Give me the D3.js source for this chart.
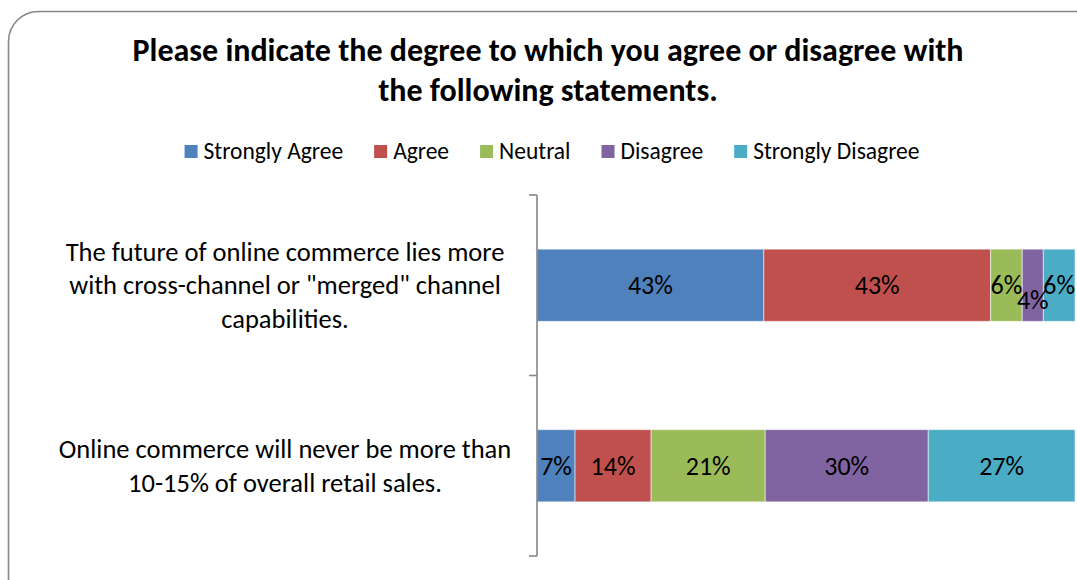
<!DOCTYPE html>
<html>
<head>
<meta charset="utf-8">
<script src="https://cdn.jsdelivr.net/npm/d3@7"></script>
<style>
  html, body { margin: 0; padding: 0; background: #ffffff; }
  svg { display: block; }
  text { font-family: Calibri, Carlito, Lato, "Noto Sans", sans-serif; fill: #000; }
</style>
</head>
<body>
<svg id="chart" width="1077" height="580"></svg>
<script>
// Survey statements (line breaks mark how the axis labels wrap)
const categories = [
  "The future of online commerce lies more\nwith cross-channel or \"merged\" channel\ncapabilities.",
  "Online commerce will never be more than\n10-15% of overall retail sales."
];
const seriesNames = ["Strongly Agree", "Agree", "Neutral", "Disagree", "Strongly Disagree"];
const seriesColors = ["#4F81BD", "#C0504D", "#9BBB59", "#8064A2", "#4BACC6"];
// Percent of respondents per answer, one array per statement
const futureCrossChannel = [43, 43, 6, 4, 6];
const neverMoreThan15 = [7, 14, 21, 30, 27];
const values = [futureCrossChannel, neverMoreThan15];
const titleLines = [
  "Please indicate the degree to which you agree or disagree with",
  "the following statements."
];

const W = 1077, H = 580;
const svg = d3.select("#chart");

// chart frame with rounded corners
svg.append("rect")
  .attr("x", 8.5).attr("y", 11.5)
  .attr("width", W + 40).attr("height", H + 40)
  .attr("rx", 30).attr("ry", 30)
  .attr("fill", "#fff")
  .attr("stroke", "#868686").attr("stroke-width", 1.6);

// title
svg.append("g").selectAll("text").data(titleLines).join("text")
  .attr("x", 548).attr("y", (d, i) => 61 + i * 40)
  .attr("text-anchor", "middle")
  .style("font-size", "32px").style("font-weight", "bold")
  .text(d => d);

// legend, centred under the title
const legend = svg.append("g");
const items = legend.selectAll("g").data(seriesNames).join("g");
items.append("rect").attr("width", 13).attr("height", 13).attr("y", 145)
  .attr("fill", (d, i) => seriesColors[i]);
items.append("text").attr("x", 19).attr("y", 159)
  .style("font-size", "23.5px").text(d => d);
let lx = 0;
const offsets = [];
items.each(function () {
  const w = this.querySelector("text").getComputedTextLength();
  offsets.push(lx);
  lx += 19 + w + 31;
});
const legendWidth = lx - 31;
const legendStart = 552 - legendWidth / 2;
items.attr("transform", (d, i) => `translate(${legendStart + offsets[i]},0)`);

// scales
const x = d3.scaleLinear().domain([0, 1]).range([537, 1075]);
const y = d3.scaleBand().domain(categories).range([195, 556])
  .paddingInner(0.6).paddingOuter(0.3);

// 100% stacked layout
const rows = values.map((vals, ci) => {
  const total = d3.sum(vals);
  let acc = 0;
  return vals.map((v, si) => {
    const seg = { cat: categories[ci], si, v, x0: acc / total, x1: (acc + v) / total };
    acc += v;
    return seg;
  });
});
const segments = rows.flat();

svg.append("g").selectAll("rect").data(segments).join("rect")
  .attr("x", d => x(d.x0))
  .attr("y", d => y(d.cat))
  .attr("width", d => x(d.x1) - x(d.x0))
  .attr("height", y.bandwidth())
  .attr("fill", d => seriesColors[d.si])
  .attr("stroke", "rgba(255,255,255,0.55)").attr("stroke-width", 1);

// category axis: vertical line with ticks on band boundaries
const axis = svg.append("g").attr("stroke", "#868686").attr("stroke-width", 1.6).attr("fill", "none");
const r = y.range();
axis.append("line").attr("x1", 537).attr("x2", 537).attr("y1", r[0]).attr("y2", r[1]);
const step = y.step();
const bounds = d3.range(categories.length + 1).map(i => r[0] + i * step);
axis.selectAll(".tick").data(bounds).join("line")
  .attr("x1", 529).attr("x2", 537).attr("y1", d => d).attr("y2", d => d);

// category labels, centred in the label column
const lab = svg.append("g").selectAll("text").data(categories).join("text")
  .attr("text-anchor", "middle").style("font-size", "26.5px");
lab.each(function (d) {
  const lines = d.split("\n");
  const yc = y(d) + y.bandwidth() / 2;
  d3.select(this).selectAll("tspan").data(lines).join("tspan")
    .attr("x", 285)
    .attr("y", (t, i) => yc + (i - (lines.length - 1) / 2) * 33.5 + 9)
    .text(t => t);
});

// data labels; a label that would collide with its left neighbour drops a row
const labelG = svg.append("g");
rows.forEach(row => {
  const placed = [];
  row.forEach(seg => {
    const cx = (x(seg.x0) + x(seg.x1)) / 2;
    const t = labelG.append("text")
      .attr("text-anchor", "middle").style("font-size", "26px")
      .attr("x", cx)
      .text(seg.v + "%");
    const w = t.node().getComputedTextLength();
    const box = [cx - w / 2, cx + w / 2];
    let rowIdx = 0;
    while (placed.some(p => p.row === rowIdx && p.box[1] > box[0] - 1)) rowIdx++;
    placed.push({ row: rowIdx, box });
    t.attr("y", y(seg.cat) + y.bandwidth() / 2 + 9 + rowIdx * 15);
  });
});
</script>
</body>
</html>
